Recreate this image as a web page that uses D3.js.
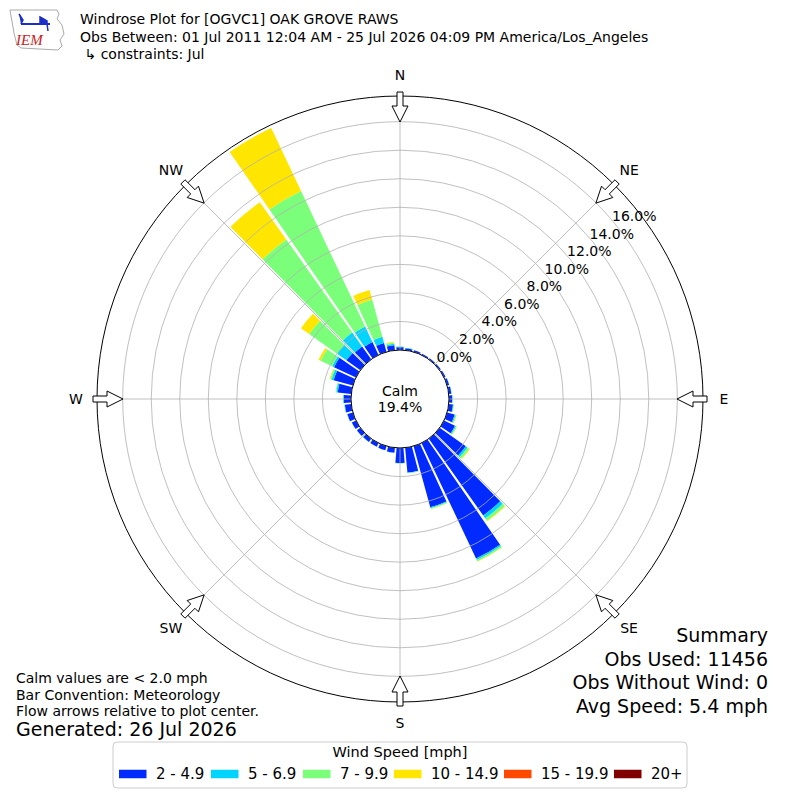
<!DOCTYPE html>
<html>
<head>
<meta charset="utf-8">
<script src="https://cdn.jsdelivr.net/npm/d3@7"></script>
<style>
  body { margin: 0; background: #fff; }
  text { font-family: "DejaVu Sans", sans-serif; fill: #000; }
</style>
</head>
<body>
<svg id="chart" width="800" height="800"></svg>
<script>
// wind direction bins (deg, meteorological)
const directions = [0, 10, 20, 30, 40, 50, 60, 70, 80, 90, 100, 110, 120, 130, 140, 150, 160, 170,
    180, 190, 200, 210, 220, 230, 240, 250, 260, 270, 280, 290, 300, 310, 320, 330, 340, 350]

const speedBins = ['2 - 4.9', '5 - 6.9', '7 - 9.9', '10 - 14.9', '15 - 19.9', '20+']
const binColors = ['#002aff', '#00d4ff', '#7bff7b', '#ffe600', '#ff4800', '#800000']

// percent of obs per direction, one array per speed bin
const pct2to5 = [0.20, 0.15, 0.12, 0.10, 0.10, 0.10, 0.12, 0.15, 0.18, 0.22, 0.30, 0.55, 0.85, 2.25, 6.60, 8.95, 4.45, 1.75,
    1.05, 0.35, 0.30, 0.28, 0.28, 0.30, 0.32, 0.40, 0.45, 0.50, 0.95, 1.40, 1.70, 1.20, 1.10, 1.00, 0.65, 0.35]
const pct5to7 = [0.03, 0.02, 0, 0, 0, 0, 0, 0.01, 0.02, 0.03, 0.04, 0.07, 0.08, 0.15, 0.25, 0.12, 0.07, 0.03,
    0.02, 0.02, 0.01, 0.01, 0.01, 0.01, 0.01, 0.02, 0.03, 0.05, 0.10, 0.15, 0.15, 0.80, 1.20, 1.20, 0.45, 0.10]
const pct7to10 = [0.03, 0, 0, 0, 0, 0, 0, 0, 0, 0.02, 0.03, 0.06, 0.06, 0.15, 0.20, 0.10, 0.05, 0.02,
    0.02, 0, 0, 0, 0, 0, 0, 0, 0.01, 0.02, 0.05, 0.10, 0.90, 2.40, 8.00, 10.50, 2.70, 0.10]
const pct10to15 = [0, 0, 0, 0, 0, 0, 0, 0, 0, 0, 0.01, 0.02, 0.02, 0.05, 0.05, 0.03, 0.02, 0,
    0, 0, 0, 0, 0, 0, 0, 0, 0, 0, 0.01, 0.05, 0.15, 0.70, 3.20, 4.90, 0.70, 0.05]
const pct15to20 = [0, 0, 0, 0, 0, 0, 0, 0, 0, 0, 0, 0, 0, 0, 0, 0, 0, 0,
    0, 0, 0, 0, 0, 0, 0, 0, 0, 0, 0, 0, 0, 0, 0, 0, 0, 0]
const pct20up = [0, 0, 0, 0, 0, 0, 0, 0, 0, 0, 0, 0, 0, 0, 0, 0, 0, 0,
    0, 0, 0, 0, 0, 0, 0, 0, 0, 0, 0, 0, 0, 0, 0, 0, 0, 0]

const ringTicks = [0, 2, 4, 6, 8, 10, 12, 14, 16]
const compassLabels = ['N', 'NE', 'E', 'SE', 'S', 'SW', 'W', 'NW']
const compassAngles = [0, 45, 90, 135, 180, 225, 270, 315]

const calmPct = 19.4
const titleLines = ['Windrose Plot for [OGVC1] OAK GROVE RAWS',
    'Obs Between: 01 Jul 2011 12:04 AM - 25 Jul 2026 04:09 PM America/Los_Angeles',
    ' \u21b3 constraints: Jul']
const noteLines = ['Calm values are < 2.0 mph', 'Bar Convention: Meteorology', 'Flow arrows relative to plot center.']
const summaryLines = ['Summary', 'Obs Used: 11456', 'Obs Without Wind: 0', 'Avg Speed: 5.4 mph']

const cx = 400
const cy = 399
const rad = Math.PI / 180

const svg = d3.select('#chart')

// radial scale, 0% sits on the calm circle
const r = d3.scaleLinear().domain([0, 17.8]).range([49, 303])

const rows = directions.map((d, i) => ({
    dir: d,
    b0: pct2to5[i], b1: pct5to7[i], b2: pct7to10[i],
    b3: pct10to15[i], b4: pct15to20[i], b5: pct20up[i]
}))
const stacked = d3.stack().keys(['b0', 'b1', 'b2', 'b3', 'b4', 'b5'])(rows)

const plot = svg.append('g').attr('transform', `translate(${cx},${cy})`)

const arc = d3.arc()
    .innerRadius(d => r(d[0]))
    .outerRadius(d => r(d[1]))
    .startAngle(d => (d.data.dir - 4.7) * rad)
    .endAngle(d => (d.data.dir + 4.7) * rad)
    .padAngle(0.012)
    .padRadius(100)

plot.selectAll('g.layer')
    .data(stacked)
    .enter()
    .append('g')
    .attr('class', 'layer')
    .attr('fill', (d, i) => binColors[i])
    .selectAll('path')
    .data(d => d.filter(s => s[1] - s[0] > 0))
    .enter()
    .append('path')
    .attr('d', arc)

// grid on top of bars, like matplotlib polar axes
plot.selectAll('circle.ring')
    .data(ringTicks)
    .enter()
    .append('circle')
    .attr('class', 'ring')
    .attr('r', d => r(d))
    .attr('fill', 'none')
    .attr('stroke', '#b0b0b0')
    .attr('stroke-width', 0.8)

plot.selectAll('line.spoke')
    .data(compassAngles)
    .enter()
    .append('line')
    .attr('class', 'spoke')
    .attr('x1', 0).attr('y1', 0)
    .attr('x2', d => r(16) * Math.sin(d * rad))
    .attr('y2', d => -r(16) * Math.cos(d * rad))
    .attr('stroke', '#b0b0b0')
    .attr('stroke-width', 0.8)

plot.append('circle')
    .attr('r', r(17.8))
    .attr('fill', 'none')
    .attr('stroke', '#000')
    .attr('stroke-width', 1)

plot.append('circle')
    .attr('r', r(0))
    .attr('fill', '#fff')
    .attr('stroke', '#000')
    .attr('stroke-width', 1)

plot.append('text')
    .attr('x', 0).attr('y', -8.5)
    .attr('text-anchor', 'middle')
    .attr('dominant-baseline', 'central')
    .style('font-size', '14px')
    .text('Calm')
plot.append('text')
    .attr('x', 0).attr('y', 8)
    .attr('text-anchor', 'middle')
    .attr('dominant-baseline', 'central')
    .style('font-size', '14px')
    .text(calmPct.toFixed(1) + '%')

// ring labels
plot.selectAll('text.rlab')
    .data(ringTicks)
    .enter()
    .append('text')
    .attr('class', 'rlab')
    .attr('x', d => (r(d) + 20) * Math.sin(52 * rad))
    .attr('y', d => -(r(d) + 20) * Math.cos(52 * rad))
    .attr('text-anchor', 'middle')
    .attr('dominant-baseline', 'central')
    .style('font-size', '14px')
    .text(d => d.toFixed(1) + '%')

// compass labels
plot.selectAll('text.clab')
    .data(compassAngles)
    .enter()
    .append('text')
    .attr('class', 'clab')
    .attr('x', d => 324 * Math.sin(d * rad))
    .attr('y', d => -324 * Math.cos(d * rad))
    .attr('text-anchor', 'middle')
    .attr('dominant-baseline', 'central')
    .style('font-size', '14px')
    .text((d, i) => compassLabels[i])

// flow arrows pointing to the center
const arrowShape = [[307, -3], [293, -3], [293, -8], [277, 0], [293, 8], [293, 3], [307, 3]]
plot.selectAll('polygon.arrow')
    .data(compassAngles)
    .enter()
    .append('polygon')
    .attr('class', 'arrow')
    .attr('points', a => arrowShape.map(p => {
        const s = Math.sin(a * rad), c = Math.cos(a * rad)
        return [p[0] * s + p[1] * c, -p[0] * c + p[1] * s].join(',')
    }).join(' '))
    .attr('fill', '#fff')
    .attr('stroke', '#000')
    .attr('stroke-width', 1)

// title block
svg.selectAll('text.title')
    .data(titleLines)
    .enter()
    .append('text')
    .attr('class', 'title')
    .attr('x', 80)
    .attr('y', (d, i) => 19 + i * 17.5)
    .attr('dominant-baseline', 'central')
    .style('font-size', '14px')
    .style('white-space', 'pre')
    .text(d => d)

// logo
const logo = svg.append('g')
logo.append('path')
    .attr('d', 'M10,10 L57,10 L59,14 L57,19 L62,25 L64,34 L60,40 L62,46 L58,50 L21,48 L17,45 L14,33 Z')
    .attr('fill', 'none')
    .attr('stroke', '#aaa')
    .attr('stroke-width', 1)
logo.append('line')
    .attr('x1', 21).attr('y1', 24).attr('x2', 50).attr('y2', 24)
    .attr('stroke', '#1a2fc8').attr('stroke-width', 2)
logo.append('path')
    .attr('d', 'M40,17 L47,21 L47,24 L40,24 Z M19,14 L23,20 L21,24 M47,24 L48,31')
    .attr('fill', '#1a2fc8')
    .attr('stroke', '#1a2fc8')
    .attr('stroke-width', 1.5)
logo.append('text')
    .attr('x', 16).attr('y', 45)
    .style('font-family', '"Liberation Serif", serif')
    .style('font-style', 'italic')
    .style('font-size', '15px')
    .style('fill', '#cc2222')
    .text('IEM')

// notes bottom left
svg.selectAll('text.note')
    .data(noteLines)
    .enter()
    .append('text')
    .attr('class', 'note')
    .attr('x', 16)
    .attr('y', (d, i) => 678 + i * 16.5)
    .attr('dominant-baseline', 'central')
    .style('font-size', '14px')
    .text(d => d)

svg.append('text')
    .attr('x', 16).attr('y', 729)
    .attr('dominant-baseline', 'central')
    .style('font-size', '19px')
    .text('Generated: 26 Jul 2026')

// summary bottom right
svg.selectAll('text.summary')
    .data(summaryLines)
    .enter()
    .append('text')
    .attr('class', 'summary')
    .attr('x', 768)
    .attr('y', (d, i) => 635 + i * 23.5)
    .attr('text-anchor', 'end')
    .attr('dominant-baseline', 'central')
    .style('font-size', '19px')
    .text(d => d)

// legend
const legend = svg.append('g')
legend.append('rect')
    .attr('x', 113).attr('y', 742)
    .attr('width', 574).attr('height', 46)
    .attr('rx', 4)
    .attr('fill', '#fff')
    .attr('stroke', '#ccc')
legend.append('text')
    .attr('x', 400).attr('y', 752)
    .attr('text-anchor', 'middle')
    .attr('dominant-baseline', 'central')
    .style('font-size', '14.5px')
    .text('Wind Speed [mph]')

const legendX = [119, 211, 303, 394, 504, 614]
const items = legend.selectAll('g.item')
    .data(speedBins)
    .enter()
    .append('g')
    .attr('class', 'item')
    .attr('transform', (d, i) => `translate(${legendX[i]},774)`)
items.append('rect')
    .attr('x', 0).attr('y', -4.25)
    .attr('width', 27.5).attr('height', 8.5)
    .attr('fill', (d, i) => binColors[i])
items.append('text')
    .attr('x', 37).attr('y', 0)
    .attr('dominant-baseline', 'central')
    .style('font-size', '15px')
    .text(d => d)
</script>
</body>
</html>
